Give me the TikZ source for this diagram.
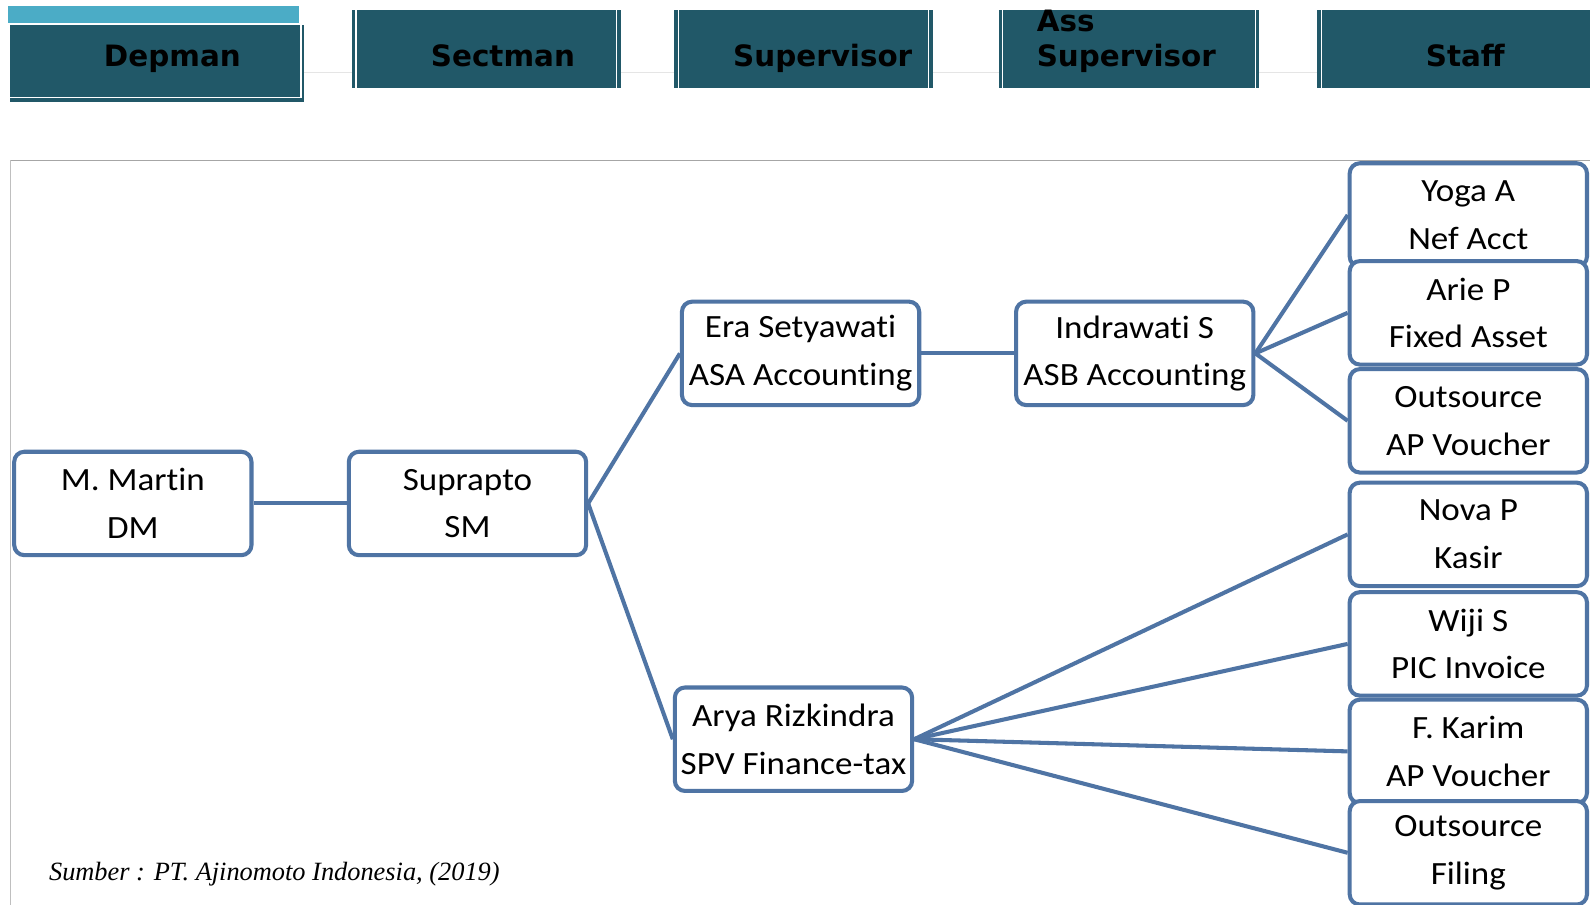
\documentclass[tikz,border=0pt]{standalone}
\usepackage{fontspec}
\setmainfont{Carlito}[Ligatures={NoCommon}, FakeStretch=1.08]
\newfontfamily\hdrfont{DejaVu Sans}
\newfontfamily\capfont{Liberation Serif}
\definecolor{hdrteal}{RGB}{33,88,104}
\definecolor{hdrlight}{RGB}{75,172,198}
\definecolor{boxblue}{RGB}{79,116,164}
\begin{document}
\begin{tikzpicture}[x=0.5pt,y=-0.5pt,
  person/.style={draw=boxblue, line width=2pt, rounded corners=5pt, fill=white,
    minimum width=117pt, minimum height=51pt, inner sep=0pt, align=center,
    font=\fontsize{16}{23.5}\selectfont},
  link/.style={draw=boxblue, line width=2pt},
  hdrtext/.style={font=\hdrfont\bfseries\fontsize{14.5}{17}\selectfont, inner sep=0pt, text=black},
  sepline/.style={draw=white, line width=0.6pt}]
\useasboundingbox (0,0) rectangle (1568,892);
\fill[white] (0,0) rectangle (1568,892);
% faint guide line behind headers
\draw[gray!20, line width=0.4pt] (300,71) -- (1568,71);
% header: Depman
\fill[hdrlight] (8,6) rectangle (295,23);
\fill[hdrteal] (10,25) rectangle (300,101);
\fill[hdrteal] (10,25) rectangle (297,95);
\draw[white, line width=0.8pt] (10,96) -- (297,96) -- (297,25);
\node[hdrtext, anchor=base] (tdep) at (170,66) {Depman};
% Sectman
\fill[hdrteal] (347,10) rectangle (612,87);
\draw[sepline] (351,10) -- (351,87);
\draw[sepline] (608,10) -- (608,87);
\node[hdrtext, anchor=base] (tsect) at (496,66) {Sectman};
% Supervisor
\fill[hdrteal] (665,10) rectangle (920,87);
\draw[sepline] (669,10) -- (669,87);
\draw[sepline] (916,10) -- (916,87);
\node[hdrtext, anchor=base east] (tsup) at (900,66) {Supervisor};
% Ass Supervisor
\fill[hdrteal] (985,10) rectangle (1242,87);
\draw[sepline] (989,10) -- (989,87);
\draw[sepline] (1238,10) -- (1238,87);
\node[hdrtext, anchor=base west] (tass1) at (1022,31) {Ass};
\node[hdrtext, anchor=base west] (tass2) at (1022,66) {Supervisor};
% Staff
\fill[hdrteal] (1299,10) rectangle (1568,87);
\draw[sepline] (1303,10) -- (1303,87);
\node[hdrtext, anchor=base] (tstaff) at (1445,66) {Staff};
% frame lines
\draw[gray!70, line width=0.6pt] (10,158) -- (1568,158);
\draw[gray!50, line width=0.6pt] (10,158) -- (10,892);
% people
\node[person] (martin) at (131,496.5) {M. Martin\\DM};
\node[person] (suprapto) at (461,496.5) {Suprapto\\SM};
\node[person] (era) at (789.5,348.5) {Era Setyawati\\ASA Accounting};
\node[person] (indra) at (1119,348.5) {Indrawati S\\ASB Accounting};
\node[person] (arya) at (782.5,729) {Arya Rizkindra\\SPV Finance-tax};
\node[person] (yoga) at (1448,212) {Yoga A\\Nef Acct};
\node[person] (arie) at (1448,308.5) {Arie P\\Fixed Asset};
\node[person] (outap) at (1448,415) {Outsource\\AP Voucher};
\node[person] (nova) at (1448,527) {Nova P\\Kasir};
\node[person] (wiji) at (1448,635) {Wiji S\\PIC Invoice};
\node[person] (karim) at (1448,741) {F. Karim\\AP Voucher};
\node[person] (filing) at (1448,841) {Outsource\\Filing};
% links
\draw[link] (martin.east) -- (suprapto.west);
\draw[link] (suprapto.east) -- (era.west);
\draw[link] (suprapto.east) -- (arya.west);
\draw[link] (era.east) -- (indra.west);
\draw[link] (indra.east) -- (yoga.west);
\draw[link] (indra.east) -- (arie.west);
\draw[link] (indra.east) -- (outap.west);
\draw[link] (arya.east) -- (nova.west);
\draw[link] (arya.east) -- (wiji.west);
\draw[link] (arya.east) -- (karim.west);
\draw[link] (arya.east) -- (filing.west);
% caption
\node[anchor=base west, inner sep=0pt, font=\capfont\itshape\fontsize{13}{15}\selectfont] (cap) at (48,868) {Sumber : PT. Ajinomoto Indonesia, (2019)};
\end{tikzpicture}
\end{document}
